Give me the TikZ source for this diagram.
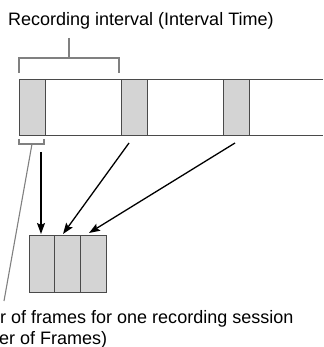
\documentclass[tikz,border=0pt]{standalone}
\usepackage{fontspec}
\setmainfont{Liberation Sans}
\usetikzlibrary{arrows.meta}
\definecolor{boxfill}{HTML}{D4D4D4}
\definecolor{edge}{HTML}{4A4A4A}
\definecolor{brk}{HTML}{808080}
\tikzset{
  frame/.style={draw=edge, line width=1pt, fill=boxfill, minimum width=26pt, minimum height=56pt, inner sep=0pt, outer sep=0pt},
  rbox/.style={draw=edge, line width=1pt, fill=boxfill, minimum width=25.6pt, minimum height=57pt, inner sep=0pt, outer sep=0pt},
  stripline/.style={draw=edge, line width=1pt},
  bracket/.style={draw=brk, line width=1.1pt},
  arr/.style={draw=black, line width=1.3pt, -{Stealth[length=11pt,width=8pt,inset=2pt]}},
  lbl/.style={font=\fontsize{18}{21}\selectfont, inner sep=0pt, anchor=base west, align=left},
}
\begin{document}
\begin{tikzpicture}[x=1pt,y=-1pt]
\useasboundingbox (0,0) rectangle (323,347);
% strip
\coordinate (sTL) at (19,80);
\coordinate (sTR) at (323,80);
\coordinate (sBL) at (19,136);
\coordinate (sBR) at (323,136);
\draw[stripline] (sTL) -- (sTR);
\draw[stripline] (sBL) -- (sBR);
\node[frame] (g1) at (32,108) {};
\node[frame] (g2) at (134,108) {};
\node[frame] (g3) at (236,108) {};
% top bracket
\node[lbl] (top) at (8,26) {Recording interval (Interval Time)};
\coordinate (bs) at (69,38);
\coordinate (bm) at (69,58);
\coordinate (bl) at (19,73);
\coordinate (br) at (119,73);
\draw[bracket] (bs) -- (bm);
\draw[bracket] (bl) -- (19,58) -- (119,58) -- (br);
% small bracket
\coordinate (sl) at (19,139);
\coordinate (sr) at (44,139);
\draw[bracket] (sl) -- (19,144) -- (44,144) -- (sr);
\coordinate (ls) at (32,144);
\coordinate (le) at (4,301);
\draw[bracket] (ls) -- (le);
% result boxes
\node[rbox] (r1) at (42,263.5) {};
\node[rbox] (r2) at (67.6,263.5) {};
\node[rbox] (r3) at (93.2,263.5) {};
% arrows
\coordinate (a1s) at (41,152);
\coordinate (a1e) at (41,234);
\coordinate (a2s) at (129,143);
\coordinate (a2e) at (63,234);
\coordinate (a3s) at (235,143);
\coordinate (a3e) at (89,233);
\draw[arr] (a1s) -- (a1e);
\draw[arr] (a2s) -- (a2e);
\draw[arr] (a3s) -- (a3e);
% bottom text
\node[lbl] (b1) at (0,323) {r of frames for one recording session};
\node[lbl] (b2) at (-1,344) {er of Frames)};
\end{tikzpicture}
\end{document}
